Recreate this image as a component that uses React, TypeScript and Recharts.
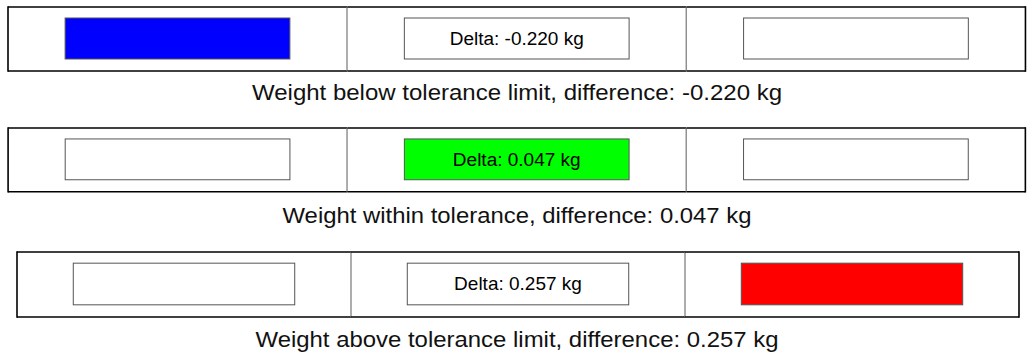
import React from "react";
import { BarChart, Bar, XAxis, YAxis } from "recharts";

// ---- data ----
const zones = ["below", "within", "above"];
const zoneColors = ["#0000ff", "#00ff00", "#ff0000"];
const cellValues = [1, 1, 1];
const panelActiveZones = ["below", "within", "above"];
const panelDeltas = [-0.22, 0.047, 0.257];
const panelCaptions = [
  "Weight below tolerance limit, difference: -0.220 kg",
  "Weight within tolerance, difference: 0.047 kg",
  "Weight above tolerance limit, difference: 0.257 kg",
];

// ---- layout (not data) ----
const panelBoxes = [
  { left: 8.3, top: 7, right: 1026, bottom: 71, capY: 99.8, capW: 530 },
  { left: 8.3, top: 128.3, right: 1026, bottom: 192, capY: 223.2, capW: 469 },
  { left: 17.3, top: 252.3, right: 1019.3, bottom: 317.3, capY: 347, capW: 523 },
];

const fmtDelta = (d: number) => `Delta: ${d.toFixed(3)} kg`;

function CellShape(props: any) {
  const { x, y, width, height, index, payload } = props;
  const last = index === zones.length - 1;
  const iw = width * 0.663;
  const ix = x + (width - iw) / 2;
  const iy = y + height * (11 / 64);
  const ih = height * (41 / 64);
  return (
    <g>
      <line x1={x} y1={y} x2={x + width} y2={y} stroke="#000" strokeWidth={1.6} />
      <line x1={x} y1={y + height} x2={x + width} y2={y + height} stroke="#000" strokeWidth={1.6} />
      {index === 0 && (
        <line x1={x} y1={y - 0.8} x2={x} y2={y + height + 0.8} stroke="#000" strokeWidth={1.6} />
      )}
      {last ? (
        <line x1={x + width} y1={y - 0.8} x2={x + width} y2={y + height + 0.8} stroke="#000" strokeWidth={1.6} />
      ) : (
        <line x1={x + width} y1={y} x2={x + width} y2={y + height} stroke="#777" strokeWidth={1.2} />
      )}
      <rect
        x={ix}
        y={iy}
        width={iw}
        height={ih}
        fill={payload.active ? payload.color : "#ffffff"}
        stroke="#555"
        strokeWidth={1}
      />
      {payload.label ? (
        <text
          x={ix + iw / 2}
          y={iy + ih / 2 + 6.5}
          textAnchor="middle"
          fontFamily="'Liberation Sans', Arial, sans-serif"
          fontSize={19}
          fill="#000"
        >
          {payload.label}
        </text>
      ) : null}
    </g>
  );
}

function Panel({ i }: { i: number }) {
  const box = panelBoxes[i];
  const data = zones.map((z, k) => ({
    zone: z,
    v: cellValues[k],
    active: z === panelActiveZones[i],
    color: zoneColors[k],
    label: z === "within" ? fmtDelta(panelDeltas[i]) : "",
  }));
  const w = box.right - box.left + 4;
  const h = box.bottom - box.top + 4;
  return (
    <div style={{ position: "absolute", left: box.left - 2, top: box.top - 2 }}>
      <BarChart
        width={w}
        height={h}
        data={data}
        margin={{ top: 2, right: 2, bottom: 2, left: 2 }}
        barCategoryGap={0}
        barGap={0}
      >
        <XAxis dataKey="zone" type="category" hide />
        <YAxis type="number" domain={[0, 1]} hide />
        <Bar dataKey="v" isAnimationActive={false} shape={<CellShape />} />
      </BarChart>
    </div>
  );
}

export default function App() {
  return (
    <div style={{ position: "absolute", left: 0, top: 0, width: 1027, height: 358, background: "#fff" }}>
      <svg width={1027} height={358} style={{ position: "absolute", left: 0, top: 0 }}>
        {panelCaptions.map((c, i) => (
          <text
            key={i}
            x={517}
            y={panelBoxes[i].capY}
            textAnchor="middle"
            fontFamily="'Liberation Sans', Arial, sans-serif"
            fontSize={21.5}
            textLength={panelBoxes[i].capW}
            lengthAdjust="spacingAndGlyphs"
            fill="#111"
          >
            {c}
          </text>
        ))}
      </svg>
      {zones.map((_, i) => (
        <Panel key={i} i={i} />
      ))}
    </div>
  );
}
